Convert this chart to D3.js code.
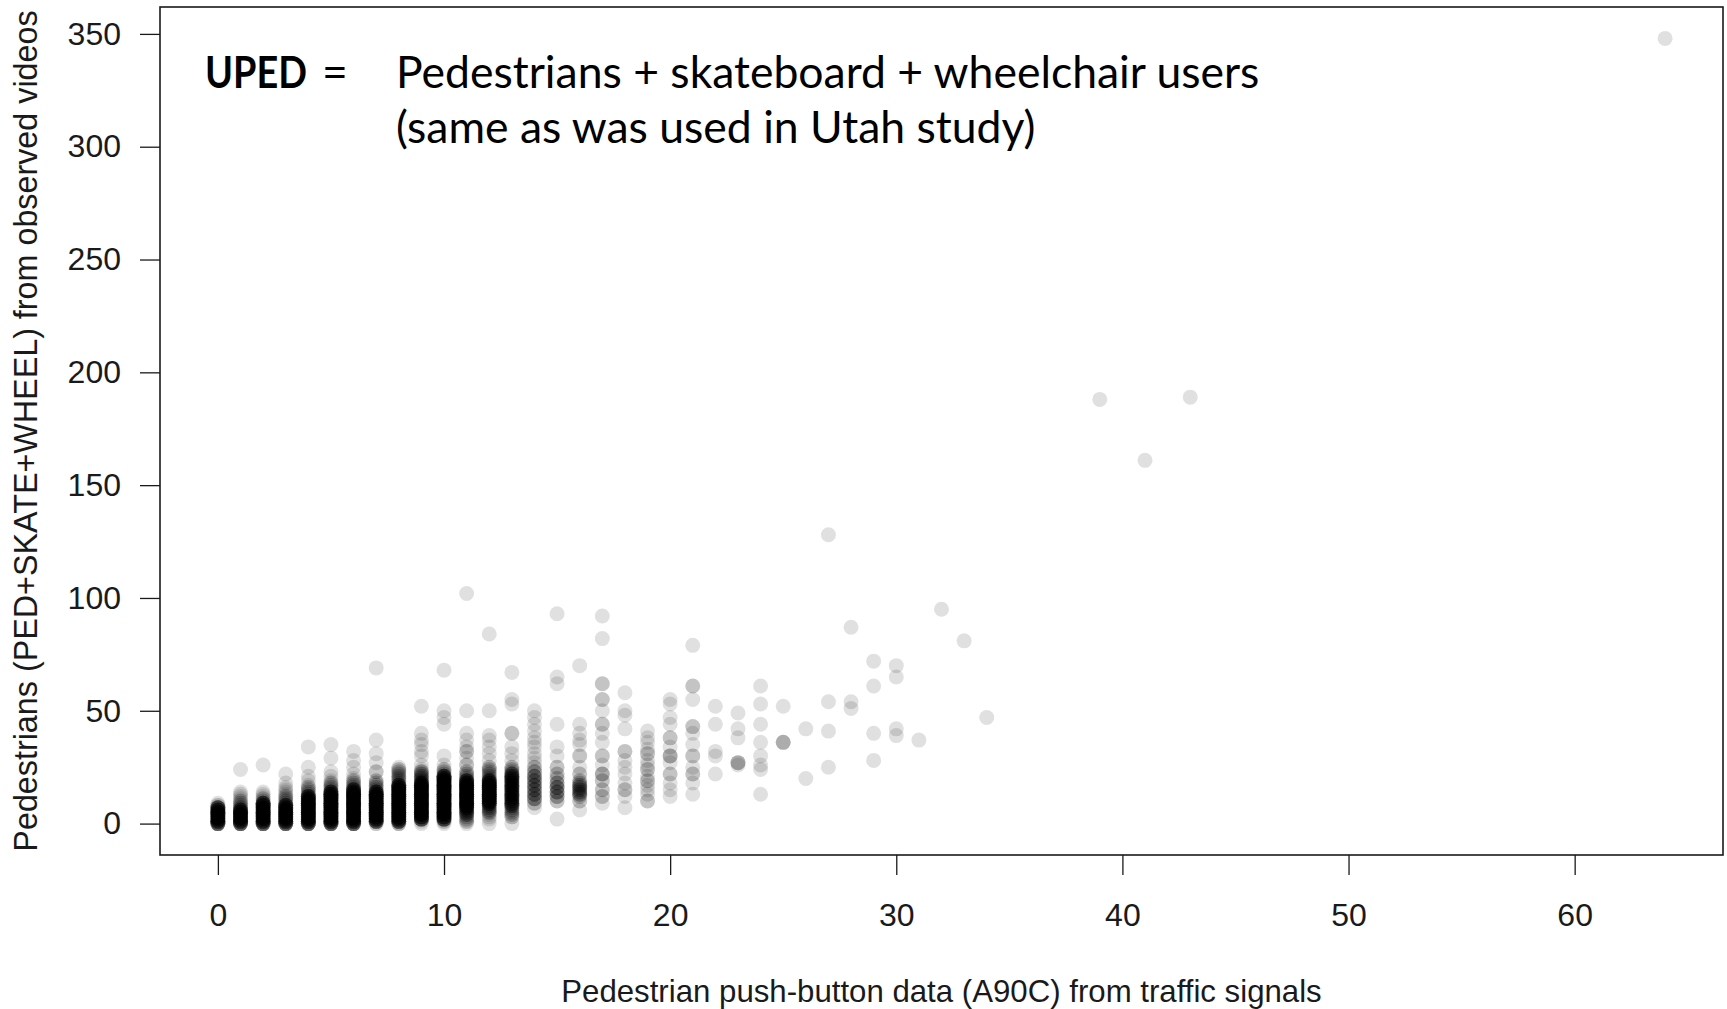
<!DOCTYPE html>
<html>
<head>
<meta charset="utf-8">
<script src="https://cdn.jsdelivr.net/npm/d3@7"></script>
<style>
  body { margin: 0; background: #fff; }
  svg { display: block; }
  .axis text { font-family: "Liberation Sans", Arial, sans-serif; font-size: 32px; fill: #1a1a1a; }
  .axis line { stroke: #1a1a1a; stroke-width: 1.3px; }
</style>
</head>
<body>
<svg id="chart" width="1727" height="1009"></svg>
<script>
// tick labels
const xTicks = [0, 10, 20, 30, 40, 50, 60];
const yTicks = [0, 50, 100, 150, 200, 250, 300, 350];

const denseX = [0, 1, 2, 3, 4, 5, 6, 7, 8, 9, 10, 11, 12, 13];
const denseCounts = [
    [8,8,8,8,8,8,8,8,2,1],
    [8,8,8,8,8,8,8,3,2,2,2,1,1,1,1],
    [8,8,8,8,8,8,8,8,8,8,2,2,1,1,1],
    [8,8,8,8,8,8,8,8,8,2,2,2,2,1,1,1,1,0,1,0,0,0,1],
    [8,8,8,8,8,8,8,8,8,8,8,8,8,2,2,2,2,1,0,1,0,1],
    [8,8,8,8,8,8,8,8,8,8,8,8,8,8,8,2,2,2,2,1,0,1,0,1],
    [8,8,8,8,8,8,8,8,8,8,8,8,8,8,8,8,2,2,2,2,1,0,1,0,0,1],
    [2,8,8,8,8,8,8,8,8,8,8,8,8,8,8,2,2,2,2,2,0,0,0,2,0,0,0,1],
    [3,8,8,8,8,8,8,8,8,8,8,8,8,8,8,8,8,8,2,2,2,2,2,2,2,1],
    [1,1,8,8,8,8,8,8,8,8,8,8,8,8,8,8,8,8,8,3,3,3,3,3,1,0,1],
    [1,2,8,8,8,8,8,8,8,8,8,8,8,8,8,8,8,8,8,8,8,8,2,2,2,0,1],
    [1,2,2,2,4,4,4,8,8,8,8,8,8,8,8,8,8,8,8,8,2,2,2,2,0,0,2],
    [1,0,1,1,1,3,3,3,3,8,8,8,8,8,8,8,8,8,8,8,2,2,2,2,2,2],
    [1,0,0,2,2,2,2,2,5,5,5,5,5,5,5,5,5,5,5,5,5,5,5,2,2,2]
];

// remaining observations: [x, y, count]
const sparsePoints = [
    [1,24,1], [2,26,1], [4,25,1], [4,34,1], [5,29,1], [5,35,1], [6,28,1], [6,32,1],
    [7,31,1], [7,37,1], [7,69,1],
    [9,30,1], [9,32,1], [9,35,1], [9,37,1], [9,40,1], [9,52,1],
    [10,30,1], [10,44,1], [10,47,1], [10,50,1], [10,68,1],
    [11,29,1], [11,32,2], [11,34,1], [11,37,1], [11,40,1], [11,50,1], [11,102,1],
    [12,28,1], [12,31,1], [12,34,1], [12,37,1], [12,39,1], [12,50,1], [12,84,1],
    [13,28,1], [13,31,1], [13,34,1], [13,40,2], [13,53,1], [13,55,1], [13,67,1],
    [14,7,1], [14,9,2], [14,11,4], [14,13,4], [14,15,4], [14,17,4], [14,19,4], [14,21,4],
    [14,23,3], [14,25,2], [14,27,1], [14,29,1], [14,31,1], [14,34,1], [14,36,1], [14,38,1],
    [14,41,1], [14,44,1], [14,47,1], [14,50,1],
    [15,2,1], [15,10,2], [15,12,3], [15,14,4], [15,16,4], [15,18,3], [15,20,2], [15,22,2],
    [15,25,2], [15,30,1], [15,34,1], [15,44,1], [15,62,1], [15,65,1], [15,93,1],
    [16,6,1], [16,10,2], [16,12,2], [16,13,3], [16,14,3], [16,15,3], [16,16,3], [16,17,3],
    [16,18,2], [16,19,2], [16,22,2], [16,25,1], [16,30,2], [16,35,1], [16,37,1], [16,40,1],
    [16,44,1], [16,70,1],
    [17,9,1], [17,12,2], [17,15,2], [17,19,2], [17,22,3], [17,26,1], [17,30,2], [17,36,1],
    [17,40,1], [17,44,2], [17,50,1], [17,55,2], [17,62,2], [17,82,1], [17,92,1],
    [18,7,1], [18,12,1], [18,15,2], [18,18,1], [18,22,1], [18,25,1], [18,28,1], [18,32,2],
    [18,42,1], [18,48,1], [18,50,1], [18,58,1],
    [19,10,2], [19,13,1], [19,15,1], [19,17,1], [19,19,2], [19,21,1], [19,24,2], [19,26,1],
    [19,28,1], [19,31,2], [19,33,1], [19,36,1], [19,38,1], [19,41,1],
    [20,12,1], [20,15,1], [20,18,1], [20,22,2], [20,27,1], [20,30,3], [20,34,1], [20,38,2],
    [20,44,1], [20,47,1], [20,53,1], [20,55,1],
    [21,13,1], [21,18,1], [21,22,2], [21,25,1], [21,30,2], [21,35,1], [21,40,1], [21,43,2],
    [21,55,1], [21,61,2], [21,79,1],
    [22,22,1], [22,30,1], [22,32,1], [22,44,1], [22,52,1],
    [23,26,1], [23,27,3], [23,38,1], [23,42,1], [23,49,1],
    [24,13,1], [24,24,1], [24,26,1], [24,30,1], [24,36,1], [24,44,1], [24,53,1], [24,61,1],
    [25,36,3], [25,52,1],
    [26,20,1], [26,42,1],
    [27,25,1], [27,41,1], [27,54,1], [27,128,1],
    [28,51,1], [28,54,1], [28,87,1],
    [29,28,1], [29,40,1], [29,61,1], [29,72,1],
    [30,39,1], [30,42,1], [30,65,1], [30,70,1],
    [31,37,1], [32,95,1], [33,81,1], [34,47,1],
    [39,188,1], [41,161,1], [43,189,1], [64,348,1]
];

const noteLabel = "UPED";
const noteLines = ["Pedestrians + skateboard + wheelchair users", "(same as was used in Utah study)"];
const xTitle = "Pedestrian push-button data (A90C) from traffic signals";
const yTitle = "Pedestrians (PED+SKATE+WHEEL) from observed videos";

// expand counts into individual observations
const points = [];
denseX.forEach((x, i) => {
    denseCounts[i].forEach((n, y) => {
        for (let k = 0; k < n; k++) points.push({x: x, y: y});
    });
});
sparsePoints.forEach(([x, y, n]) => {
    for (let k = 0; k < n; k++) points.push({x: x, y: y});
});

const box = {left: 160, right: 1723, top: 7, bottom: 855};

const xMax = d3.max(points, d => d.x), yMax = d3.max(points, d => d.y);
const x = d3.scaleLinear()
    .domain([-0.04 * xMax, xMax * 1.04])
    .range([box.left, box.right]);
const y = d3.scaleLinear()
    .domain([-0.04 * yMax, yMax * 1.04])
    .range([box.bottom, box.top]);

const svg = d3.select("#chart");

svg.append("g")
    .selectAll("circle")
    .data(points)
    .enter()
    .append("circle")
    .attr("cx", d => x(d.x))
    .attr("cy", d => y(d.y))
    .attr("r", 7.5)
    .attr("fill", "#000")
    .attr("fill-opacity", 0.12);

svg.append("rect")
    .attr("x", box.left)
    .attr("y", box.top)
    .attr("width", box.right - box.left)
    .attr("height", box.bottom - box.top)
    .attr("fill", "none")
    .attr("stroke", "#1a1a1a")
    .attr("stroke-width", 1.6);

const gx = svg.append("g")
    .attr("class", "axis")
    .attr("transform", `translate(0,${box.bottom})`)
    .call(d3.axisBottom(x).tickValues(xTicks).tickSize(20).tickPadding(28).tickSizeOuter(0));
gx.select(".domain").remove();

const gy = svg.append("g")
    .attr("class", "axis")
    .attr("transform", `translate(${box.left},0)`)
    .call(d3.axisLeft(y).tickValues(yTicks).tickSize(20).tickPadding(19).tickSizeOuter(0));
gy.select(".domain").remove();

svg.append("text")
    .attr("x", (box.left + box.right) / 2)
    .attr("y", 1002)
    .attr("text-anchor", "middle")
    .style("font-family", "'Liberation Sans', Arial, sans-serif")
    .style("font-size", "31.2px")
    .style("fill", "#1a1a1a")
    .text(xTitle);

svg.append("text")
    .attr("transform", `translate(37,${(box.top + box.bottom) / 2}) rotate(-90)`)
    .attr("text-anchor", "middle")
    .style("font-family", "'Liberation Sans', Arial, sans-serif")
    .style("font-size", "32.3px")
    .style("fill", "#1a1a1a")
    .text(yTitle);

// annotation
const note = svg.append("g")
    .style("font-family", "Lato, 'Noto Sans', sans-serif")
    .style("font-size", "44.5px")
    .style("fill", "#000");

note.append("text")
    .attr("x", 205)
    .attr("y", 88)
    .attr("textLength", 102)
    .attr("lengthAdjust", "spacingAndGlyphs")
    .style("font-weight", "bold")
    .text(noteLabel);

note.append("text")
    .attr("x", 322)
    .attr("y", 88)
    .text("=");

note.selectAll("text.line")
    .data(noteLines)
    .enter()
    .append("text")
    .attr("class", "line")
    .attr("x", 396)
    .attr("y", (d, i) => 88 + i * 55)
    .text(d => d);
</script>
</body>
</html>
